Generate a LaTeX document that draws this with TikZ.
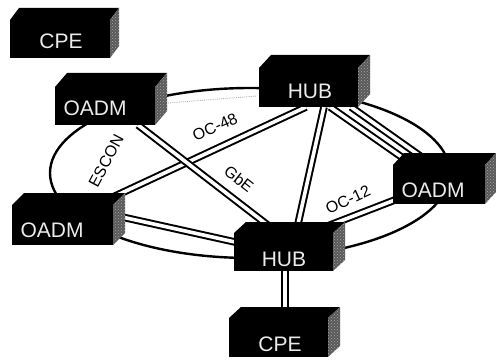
\documentclass[tikz,border=0pt]{standalone}
\usepackage{fontspec}
\setmainfont{Liberation Sans}
\usetikzlibrary{backgrounds,patterns,shapes.geometric}
\newcommand\netbox[7]{%
  \node[boxfront, minimum width={#4-#2}, minimum height={#5-#3}] (#1) at ({(#2+#4)/2},{(#3+#5)/2}) {};
  \fill[boxtop] (#1.north west) -- ++(#6,-#7) -- ([shift={(#6,-#7)}]#1.north east) -- (#1.north east) -- cycle;
  \fill[boxside] (#1.north east) -- ++(#6,-#7) -- ([shift={(#6,-#7)}]#1.south east) -- (#1.south east) -- cycle;
  \fill[pattern=crosshatch dots, pattern color=gray!70] (#1.north east) -- ++(#6,-#7) -- ([shift={(#6,-#7)}]#1.south east) -- (#1.south east) -- cycle;
}
\begin{document}
\begin{tikzpicture}[x=1pt,y=-1pt,
  boxfront/.style={fill=black, inner sep=0pt, outer sep=0pt, draw=none},
  boxtop/.style={fill=black},
  boxside/.style={fill=black!65},
  boxtext/.style={text=white!92!black, font=\fontsize{21}{21}\selectfont, inner sep=0pt},
  link/.style={draw=black, line width=2pt, double=white, double distance=3.6pt},
  ring/.style={draw=black, line width=2.4pt},
  lbl/.style={font=\fontsize{16}{16}\selectfont, inner sep=0pt}]
\useasboundingbox (0,0) rectangle (496,361);

\netbox{cpeA}{10}{20}{110}{58}{9}{12}
\netbox{oadmA}{55}{87}{155}{125}{12}{14}
\netbox{hubA}{259}{68}{358}{107}{12}{13}
\netbox{oadmB}{393}{165}{485}{204}{11}{12}
\netbox{oadmC}{12}{205}{113}{245}{12}{12}
\netbox{hubB}{234}{233}{333}{271}{12}{11}
\netbox{cpeB}{229}{318}{328}{357}{12}{11}

\node[boxtext] (cpeA-t) at (61,41.5) {CPE};
\node[boxtext] (oadmA-t) at (95,108) {OADM};
\node[boxtext] (hubA-t) at (310,91) {HUB};
\node[boxtext] (oadmB-t) at (433,190) {OADM};
\node[boxtext] (oadmC-t) at (52,230) {OADM};
\node[boxtext] (hubB-t) at (284,259) {HUB};
\node[boxtext] (cpeB-t) at (280,344) {CPE};

\begin{pgfonlayer}{background}
\node[ring, ellipse, minimum width=400pt, minimum height=170pt, inner sep=0pt] (ring) at (250,173) {};
\draw[gray!60, line width=0.9pt, densely dotted] ([shift={(13,-22)}]oadmA.south east) -- ([shift={(-2,8.5)}]hubA.west);
% OC-48
\draw[link] ([shift={(0,-8)}]oadmC.north east) -- ([shift={(47,0)}]hubA.south west);
% GbE
\draw[link] ([shift={(83,0)}]oadmA.south west) -- ([shift={(44,0)}]hubB.north west);
% HUB - HUB
\draw[link] ([shift={(65,0)}]hubA.south west) -- ([shift={(62,0)}]hubB.north west);
% HUB - OADM right (two pairs)
\draw[link] ([shift={(71,0)}]hubA.south west) -- ([shift={(20,0)}]oadmB.north west);
\draw[link] ([shift={(92,0)}]hubA.south west) -- ([shift={(40,0)}]oadmB.north west);
% OADM left - HUB bottom
\draw[link] ([shift={(0,-10)}]oadmC.east) -- ([shift={(10,-8)}]hubB.west);
% OC-12
\draw[link] ([shift={(-8,-6)}]hubB.north east) -- ([shift={(7,13.5)}]oadmB.west);
% HUB - CPE
\draw[link] ([shift={(1.5,0)}]hubB.south) -- ([shift={(6.5,0)}]cpeB.north);
\end{pgfonlayer}

\node[lbl, rotate=24] (l48) at (215,127) {OC-48};
\node[lbl, rotate=-38] (lgbe) at (239,179) {GbE};
\node[lbl, rotate=62] (lesc) at (106,161) {ESCON};
\node[lbl, rotate=25] (l12) at (348,200) {OC-12};
\end{tikzpicture}
\end{document}
